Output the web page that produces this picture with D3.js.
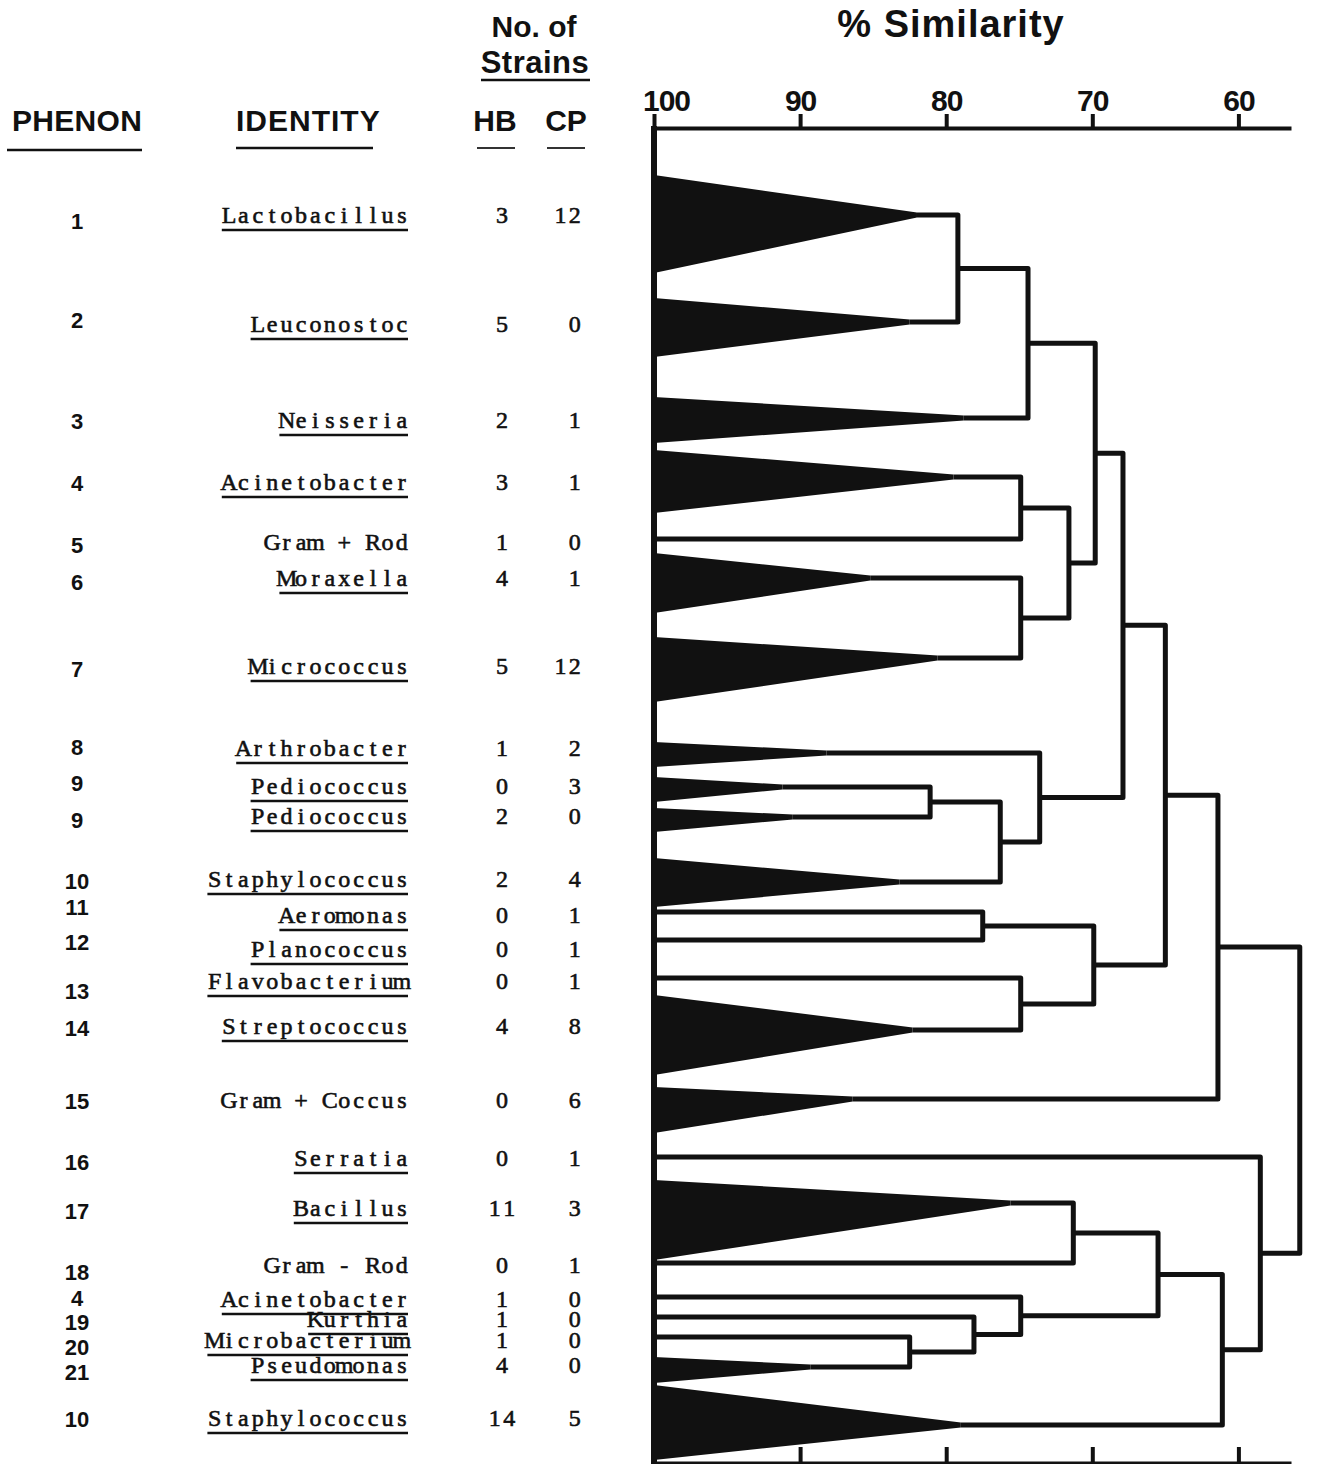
<!DOCTYPE html>
<html>
<head>
<meta charset="utf-8">
<script src="https://cdn.jsdelivr.net/npm/d3@7"></script>
<style>
  body { margin: 0; background: #fff; }
  svg { display: block; }
</style>
</head>
<body>
<svg id="chart" width="1317" height="1464"></svg>
<script>
// ---- Phenon table (top to bottom, in dendrogram order) ----
const phenons = ["1","2","3","4","5","6","7","8","9","9","10","11","12","13","14","15","16","17","18","4","19","20","21","10"];
const identities = ["Lactobacillus","Leuconostoc","Neisseria","Acinetobacter","Gram + Rod","Moraxella",
  "Micrococcus","Arthrobacter","Pediococcus","Pediococcus","Staphylococcus","Aeromonas","Planococcus",
  "Flavobacterium","Streptococcus","Gram + Coccus","Serratia","Bacillus","Gram - Rod","Acinetobacter",
  "Kurthia","Microbacterium","Pseudomonas","Staphylococcus"];
// genus names are underlined; the unnamed Gram groups are not
const isGenus = [true,true,true,true,false,true,true,true,true,true,true,true,true,true,true,false,true,true,false,true,true,true,true,true];
const strainsHB = [3,5,2,3,1,4,5,1,0,2,2,0,0,0,4,0,0,11,0,1,1,1,4,14];
const strainsCP = [12,0,1,1,0,1,12,2,3,0,4,1,1,1,8,6,1,3,1,0,0,0,0,5];

// % similarity at which each phenon's own strains converge (100 = single strain, drawn as a plain line)
const phenonSimilarity = [82.0,82.5,78.8,79.5,100,85.2,80.6,88.2,91.2,90.5,83.2,100,100,100,82.3,86.4,100,75.6,100,100,100,100,89.3,79.0];

// Cluster fusions: [left, right, % similarity]. Phenons are 0..23, fusions are numbered from 24 on.
const fusions = [
  [0, 1, 79.2],    // 24
  [24, 2, 74.4],   // 25
  [3, 4, 74.9],    // 26
  [5, 6, 74.9],    // 27
  [26, 27, 71.6],  // 28
  [25, 28, 69.8],  // 29
  [8, 9, 81.1],    // 30
  [30, 10, 76.3],  // 31
  [7, 31, 73.6],   // 32
  [29, 32, 67.9],  // 33
  [11, 12, 77.5],  // 34
  [13, 14, 74.9],  // 35
  [34, 35, 69.9],  // 36
  [33, 36, 65.0],  // 37
  [37, 15, 61.4],  // 38
  [17, 18, 71.3],  // 39
  [21, 22, 82.5],  // 40
  [20, 40, 78.1],  // 41
  [19, 41, 74.9],  // 42
  [39, 42, 65.5],  // 43
  [43, 23, 61.1],  // 44
  [16, 44, 58.5],  // 45
  [38, 45, 55.8]   // 46 (root)
];
const similarityTicks = [100, 90, 80, 70, 60];

// ---- Vertical layout, in row units (1 unit = 10 px on the page) ----
const branchRow   = [4.0,14.7,24.3,30.2,36.4,40.3,48.3,57.8,61.2,64.2,70.7,73.7,76.5,80.3,85.5,92.4,98.2,102.8,108.8,112.2,114.2,116.2,119.2,125.0];
const wedgeTop    = [0.0,12.3,22.2,27.5,null,37.8,46.2,56.7,60.2,63.3,68.3,null,null,null,82.0,91.2,null,100.5,null,null,null,null,118.2,121.0];
const wedgeBottom = [9.8,18.2,26.8,33.8,null,43.8,52.7,59.2,62.7,65.7,73.2,null,null,null,90.0,95.8,null,108.5,null,null,null,null,120.8,128.5];
const labelRow    = [4.1,15.0,24.6,30.8,36.8,40.4,49.2,57.4,61.2,64.2,70.5,74.1,77.5,80.7,85.2,92.6,98.4,103.4,109.1,112.5,114.5,116.6,119.1,124.4];
const phenonRow   = [4.6,14.5,24.6,30.8,37.0,40.7,49.4,57.2,60.8,64.5,70.6,73.2,76.7,81.6,85.3,92.6,98.7,103.6,109.7,112.3,114.7,117.2,119.7,124.4];

// ---- Drawing ----
const INK = "#111";
const sansBold = "'Liberation Sans', Arial, Helvetica, sans-serif";
const typeFace = "'Liberation Serif', 'Times New Roman', serif";
const PITCH = 14.4;   // typewriter character pitch

const svg = d3.select("#chart");
const x = d3.scaleLinear().domain([100, 56.4]).range([654, 1291]);
const row = d3.scaleLinear().domain([0, 128.5]).range([175, 1460]);

// Column headings
function heading(text, px, py, size, anchor, spacing) {
  return svg.append("text").attr("x", px).attr("y", py)
    .attr("font-family", sansBold).attr("font-weight", "bold")
    .attr("font-size", size).attr("text-anchor", anchor || "start")
    .attr("letter-spacing", spacing || 0).attr("fill", INK).text(text);
}
function rule(x1, x2, y, w, color) {
  svg.append("line").attr("x1", x1).attr("x2", x2).attr("y1", y).attr("y2", y)
    .attr("stroke", color || INK).attr("stroke-width", w);
}
heading("PHENON", 12, 131, 30, "start", 0.3);
rule(7, 142, 150, 2.5);
heading("IDENTITY", 236, 131, 30, "start", 1);
rule(236, 373, 148, 2.5);
heading("No. of", 534, 37, 30, "middle");
heading("Strains", 535, 73, 31, "middle", 0.5);
rule(481, 590, 80, 2.5);
heading("HB", 495, 131, 30, "middle");
heading("CP", 566, 131, 30, "middle");
rule(477, 515, 148, 2, "#333");
rule(547, 585, 148, 2, "#333");
heading("% Similarity", 951, 37, 38, "middle", 1);

// Phenon numbers
svg.append("g").selectAll("text").data(phenons).join("text")
  .attr("x", 77).attr("y", (d, i) => row(phenonRow[i]) + 8)
  .attr("text-anchor", "middle")
  .attr("font-family", sansBold).attr("font-weight", "bold").attr("font-size", 22)
  .attr("fill", INK).text(d => d);

// Fixed-pitch typewriter text: every character centred in its own cell,
// right edge of the last cell at `right`.
function typed(g, str, right, baseline) {
  const s = String(str);
  const n = s.length;
  const t = g.append("text").attr("y", baseline)
    .attr("font-family", typeFace).attr("font-size", 24)
    .attr("fill", INK).attr("stroke", INK).attr("stroke-width", 0.6)
    .attr("text-anchor", "middle");
  t.selectAll("tspan").data(s.split("")).join("tspan")
    .attr("x", (c, k) => right - (n - k) * PITCH + PITCH / 2)
    .attr("y", baseline)
    .text(c => c === " " ? "\u00a0" : c);
  return n * PITCH;
}

// Identities, genus names underlined
const idLayer = svg.append("g");
identities.forEach((name, i) => {
  const base = row(labelRow[i]) + 7;
  const w = typed(idLayer, name, 409, base);
  if (isGenus[i]) {
    idLayer.append("line")
      .attr("x1", 409 - w).attr("x2", 408)
      .attr("y1", base + 7).attr("y2", base + 7)
      .attr("stroke", INK).attr("stroke-width", 2.6);
  }
});

// Strain counts
const countLayer = svg.append("g");
strainsHB.forEach((v, i) => {
  const s = String(v);
  // HB column is centred on x = 502
  typed(countLayer, s, 502 + s.length * PITCH / 2, row(labelRow[i]) + 7);
});
strainsCP.forEach((v, i) => typed(countLayer, v, 582, row(labelRow[i]) + 7));

// Similarity axes (top with labels, bottom ticks only)
const topAxis = svg.append("g").attr("transform", "translate(0,128)")
  .call(d3.axisTop(x).tickValues(similarityTicks).tickSize(14).tickSizeOuter(0).tickPadding(3));
const bottomAxis = svg.append("g").attr("transform", "translate(0,1463)")
  .call(d3.axisTop(x).tickValues(similarityTicks).tickSize(16).tickSizeOuter(0).tickFormat(() => ""));
[topAxis, bottomAxis].forEach(g => {
  g.select(".domain").attr("stroke", INK).attr("stroke-width", 4);
  g.selectAll(".tick line").attr("stroke", INK).attr("stroke-width", 4);
});
topAxis.selectAll(".tick text")
  .attr("font-family", sansBold).attr("font-weight", "bold").attr("font-size", 30)
  .attr("fill", INK).attr("dy", 0)
  .attr("dx", d => d === 100 ? 12 : 0)
  .attr("letter-spacing", -1);

// Dendrogram tree
const nodeList = phenons.map((p, i) => ({ leaf: i }));
fusions.forEach(([a, b, s]) => nodeList.push({ sim: s, children: [nodeList[a], nodeList[b]] }));
const root = d3.hierarchy(nodeList[nodeList.length - 1]);
root.eachAfter(d => {
  if (d.children) {
    d.px = x(d.data.sim);
    d.py = (d.children[0].py + d.children[1].py) / 2;
  } else {
    const i = d.data.leaf;
    d.px = x(phenonSimilarity[i]);
    d.py = row(branchRow[i]);
  }
});

// baseline at 100 %
svg.append("line").attr("x1", x(100)).attr("x2", x(100)).attr("y1", 126).attr("y2", 1464)
  .attr("stroke", INK).attr("stroke-width", 6);

// within-phenon wedges
const wedgeLeaves = root.leaves().filter(d => wedgeTop[d.data.leaf] !== null);
svg.append("g").selectAll("path").data(wedgeLeaves).join("path")
  .attr("d", d => {
    const i = d.data.leaf;
    return `M${x(100)},${row(wedgeTop[i])}L${d.px},${d.py - 2.5}L${d.px},${d.py + 2.5}L${x(100)},${row(wedgeBottom[i])}Z`;
  })
  .attr("fill", INK);

// fusion brackets
svg.append("g").selectAll("path").data(root.descendants().filter(d => d.children)).join("path")
  .attr("d", d => {
    const [a, b] = d.children;
    return `M${a.px},${a.py}H${d.px}V${b.py}H${b.px}`;
  })
  .attr("fill", "none").attr("stroke", INK).attr("stroke-width", 5)
  .attr("stroke-linejoin", "round").attr("stroke-linecap", "butt");
</script>
</body>
</html>
